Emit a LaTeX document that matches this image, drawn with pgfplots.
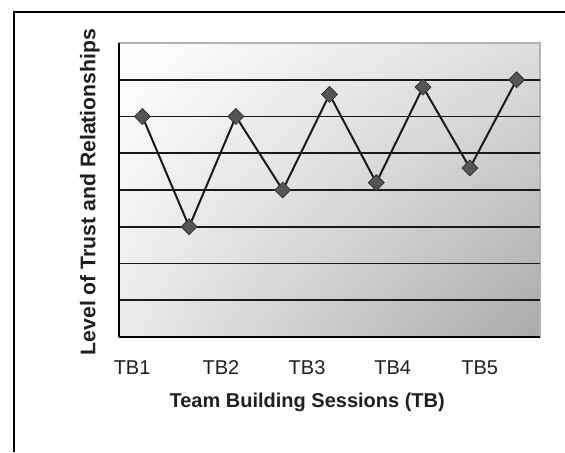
\documentclass[border=0pt]{standalone}
\usepackage{fontspec}
\setmainfont{Liberation Sans}
\usepackage{pgfplots}
\pgfplotsset{compat=1.18}
\usetikzlibrary{shadings}

\pgfplotstableread{
x  y
1  6.0
2  3.0
3  6.0
4  4.0
5  6.6
6  4.2
7  6.8
8  4.6
9  7.0
}\trustdata

\definecolor{markgray}{HTML}{555555}
\definecolor{edgegray}{HTML}{B4B4B4}

\begin{document}
\begin{tikzpicture}
\useasboundingbox (0,0) rectangle (282.5pt,226pt);
% outer frame
\draw[line width=0.9pt] (7pt,0pt) -- (7pt,220pt) -- (282.5pt,220pt);
\begin{axis}[
  at={(59.5pt,57.5pt)}, anchor=south west,
  scale only axis, width=210.5pt, height=147pt,
  xmin=0.5, xmax=9.5, ymin=0, ymax=8,
  axis x line*=bottom, axis y line*=left,
  axis line style={black, line width=1pt, -},
  axis background/.style={draw=edgegray, line width=0.7pt,
    upper left=white, upper right=black!13,
    lower left=black!8, lower right=black!34},
  ytick={1,2,3,4,5,6,7}, yticklabels={},
  ymajorgrids, grid style={black!90, line width=0.95pt},
  major tick length=0pt,
  xtick={0.78,2.68,4.52,6.35,8.21},
  xticklabels={TB1,TB2,TB3,TB4,TB5},
  xticklabel style={anchor=base, yshift=-18.5pt, font=\fontsize{10pt}{12pt}\selectfont, text=black!88},
  xlabel={Team Building Sessions (TB)},
  ylabel={Level of Trust and Relationships},
  every axis x label/.style={at={(axis description cs:0.447,-0.224)}, anchor=center,
    font=\bfseries\fontsize{10pt}{12pt}\selectfont, text=black!88},
  every axis y label/.style={at={(axis description cs:-0.069,0.493)}, anchor=center, rotate=90,
    font=\bfseries\fontsize{10.6pt}{12pt}\selectfont, text=black!88},
  clip=false,
]
\addplot[black!90, line width=1pt, mark=square*, mark size=2.8pt,
  mark options={rotate=45, fill=markgray, draw=black!80, line width=0.4pt}]
  table[x=x, y=y] {\trustdata};
\end{axis}
\end{tikzpicture}
\end{document}
